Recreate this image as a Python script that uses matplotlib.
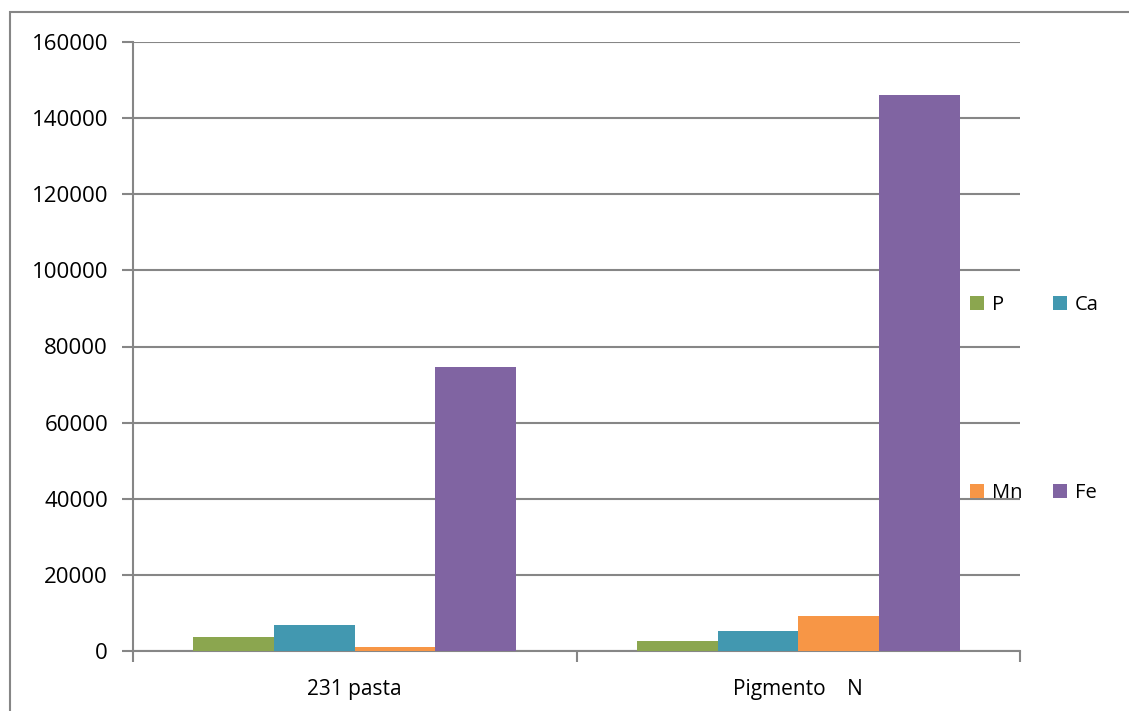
import numpy as np
import matplotlib.pyplot as plt
from matplotlib.patches import Rectangle

plt.rcParams['font.family'] = ['Open Sans', 'DejaVu Sans']

# données
categories = ["231 pasta", "Pigmento    N"]
series = ["P", "Ca", "Mn", "Fe"]
valeurs_P = [3600, 2550]
valeurs_Ca = [6950, 5250]
valeurs_Mn = [1050, 9100]
valeurs_Fe = [74500, 146100]
couleurs = ["#8ba64f", "#4298b0", "#f79646", "#8064a2"]
yticks = [0, 20000, 40000, 60000, 80000, 100000, 120000, 140000, 160000]

fig = plt.figure(figsize=(11.29, 7.11), dpi=100)
ax = fig.add_axes([133 / 1129, 60 / 711, 887 / 1129, 609 / 711])

# cadre extérieur (coupé à droite et en bas)
fig.patches.append(Rectangle((10 / 1129, -0.1), 1.2, 1 - 12 / 711 + 0.1,
                             transform=fig.transFigure, fill=False,
                             edgecolor="#868686", linewidth=1.5))

x = np.arange(len(categories))
largeur = 0.182
donnees = [valeurs_P, valeurs_Ca, valeurs_Mn, valeurs_Fe]
barres = []
for i, (nom, vals) in enumerate(zip(series, donnees)):
    b = ax.bar(x + (i - 1.5) * largeur, vals, largeur, color=couleurs[i],
               label=nom, zorder=3)
    barres.append(b)

ax.set_xlim(-0.5, 1.5)
ax.set_ylim(0, 160000)
ax.set_yticks(yticks)
ax.set_yticklabels([str(v) for v in yticks])
ax.set_xticks([-0.5, 0.5, 1.5], minor=False)
ax.set_xticklabels([])
ax.set_xticks(x, minor=True)
ax.set_xticklabels(categories, minor=True)
ax.tick_params(axis="x", which="minor", length=0, pad=20, labelsize=15)
ax.tick_params(axis="x", which="major", length=8, width=1.5, color="#868686", direction="out")
ax.tick_params(axis="y", length=8, width=1.5, color="#868686", pad=10, labelsize=16)

ax.grid(axis="y", color="#868686", linewidth=1.5, zorder=0)
for s in ["top", "right"]:
    ax.spines[s].set_visible(False)
for s in ["left", "bottom"]:
    ax.spines[s].set_color("#868686")
    ax.spines[s].set_linewidth(1.5)

# légende : ordre P, Mn / Ca, Fe pour obtenir deux lignes P Ca et Mn Fe
ordre = [0, 2, 1, 3]
fig.legend([barres[i] for i in ordre], [series[i] for i in ordre],
           loc="upper left", bbox_to_anchor=(970 / 1129, 1 - 295 / 711),
           ncol=2, frameon=False, fontsize=14.5, handlelength=0.7,
           handleheight=0.7, handletextpad=0.4, columnspacing=1.5,
           labelspacing=8.35, borderpad=0, borderaxespad=0)

fig.savefig("out.png", dpi=100)
